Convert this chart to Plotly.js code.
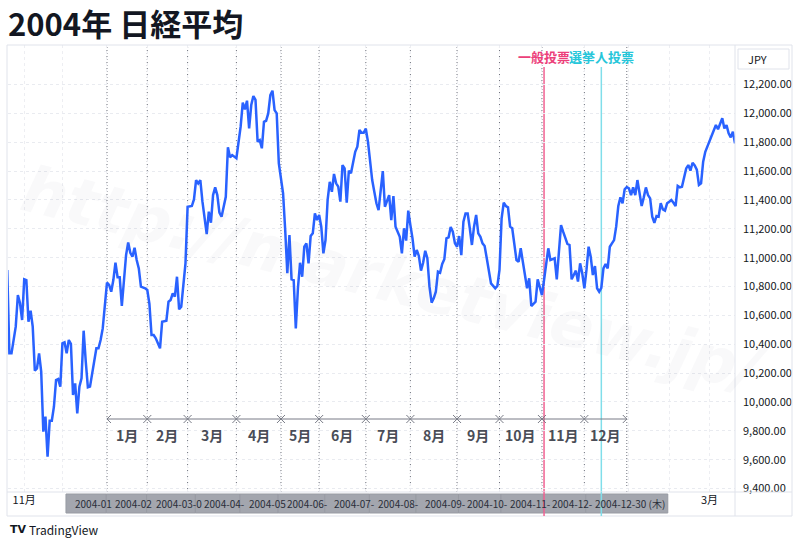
<!DOCTYPE html>
<html><head><meta charset="utf-8">
<script src="https://cdn.plot.ly/plotly-3.0.1.min.js"></script>
<style>html,body{margin:0;padding:0;background:#fff;} #chart{width:800px;height:544px;}</style>
</head><body><div id="chart"></div>
<script>
// ---- data: trading-day index (0 = 2004-01-05) and Nikkei 225 close (JPY) ----
const day2003 = [-47,-46,-45,-43,-42,-41,-40,-39,-38,-37,-36,-35,-34,-33,-32,-31,-30,-29,-28,-27,-26,-25,-24,-23,-22,-21,-20,-19,-18,-17,-16,-15,-14,-13,-12,-11,-10,-9,-8,-6,-5,-4,-3,-2,-1];
const close2003 = [10915,10337,10337,10522,10741,10686,10568,10850,10845,10556,10633,10522,10217,10233,10337,10210,9794,9898,9621,9870,9870,9967,10152,10159,10106,10406,10413,10337,10429,10402,10048,10129,9921,10106,10164,10494,10279,10101,10106,10291,10372,10372,10429,10510,10684];

const day2004 = [0,1,2,3,4,5,6,7,8,9, 10,11,12,13,14,15,16,18,19,20, 21,22,23,25,26,28,29,30,31,32, 33,34,35,37,38,40,41,42,43,44,
  45,47,48,49,50,51,52,53,54,56, 57,58,59,61,63,64,65,66,67,68, 69,70,71,72,73,74,75,76,77,78, 79,80,81,83,84,85,86,87,88,89,
  90,91,92,93,94,95,96,97,98,99, 100,101,102,103,104,105,106,107,108,109, 110,111,112,113,114,115,117,118,119,120,
  121,122,123,124,125,126,127,128,129,130, 131,132,133,134,135,136,137,138,139,140, 141,142,143,144,145,146,147,148,149,150,
  151,152,153,154,155,156,157,158,159,160, 161,162,163,164,165,166,167,168,169,170, 171,172,173,174,175,176,177,178,179,180,
  181,183,184,185,186,187,188,189,190,191, 192,193,194,195,196,197,198,199,200,201, 202,203,204,205,206,207,208,209,210,211,
  212,213,214,215,216,217,218,219,220,221, 222,223,224,225,226,227,228,229,230,231, 232,233,234,235,236,237,238,239,240,241,
  242,243,244,245];
const close2004 = [10827,10811,10764,10845,10965,10864,10864,10665,10868,11018, 11106,11034,11007,11069,10984,10926,10799,10788,10776,10680,
  10464,10464,10441,10372,10556,10563,10695,10707,10753,10730, 10868,10642,10660,10961,11353,11358,11404,11538,11515,11538,
  11388,11164,11319,11242,11434,11487,11434,11312,11284,11422, 11765,11696,11711,11689,11908,12074,12028,12088,11896,12058,
  12120,12093,11804,11815,11758,11942,11949,12000,12127,12157, 12023,12000,11654,11446,11192,10892,11157,10850,10845,10510,
  10788,10965,10868,11076,11099,10961,11150,11169,11307,11261, 11296,11215,11030,11122,11400,11526,11457,11580,11515,11492,
  11388,11642,11619,11381,11603,11585,11734,11769,11885,11866, 11866,11894,11804,11677,11538,11457,11377,11330,11481,11600,
  11353,11395,11434,11261,11427,11215,11173,11145,11030,11204, 11118,11326,11226,11134,11007,11053,11012,10910,10965,11048,
  10996,10799,10688,10718,10764,10903,10896,10956,10989,11134, 11141,11212,11180,11099,11076,11150,11018,11249,11307,11307,
  11204,11088,11215,11296,11169,11145,11099,11081,10996,10892, 10822,10788,10804,10915,11273,11381,11358,11349,11215,11204,
  11076,10984,10972,11065,10972,10864,10788,10857,10665,10679, 10695,10850,10799,10741,10845,10949,11065,10984,10989,10996,
  10850,11076,11226,11180,11134,11095,11088,10850,10880,10910, 10834,10961,10892,10788,10915,11076,11007,10880,10942,10788,
  10764,10790,10926,10956,10926,11076,11099,11122,11215,11358, 11418,11377,11474,11489];

const day2005 = [246,247,248,249,250,251,252,253,254,255,256,257,258,259,260,261,262,263,264,265,266,267,268,269,270,271,272,273,274,275,
  276,277,278,279,280,281,282,283,284,285,286,287,288,289,290,291,292,293,294,295,296];
const close2005 = [11481,11434,11487,11434,11538,11457,11358,11418,11487,11434, 11411,11284,11242,11289,11284,11377,11335,11326,11377,11388,
  11400,11381,11358,11497,11487,11492,11557,11619,11642,11603, 11658,11640,11610,11504,11515,11665,11734,11769,11804,11850,
  11873,11919,11890,11926,11966,11896,11919,11862,11834,11873, 11792];

// month ranges of 2004 (first trading day of each month, last = 2004-12-30)
const monthStart = [0,19,38,61,82,100,122,143,165,185,205,225,245];
const monthLabels = ['1月','2月','3月','4月','5月','6月','7月','8月','9月','10月','11月','12月'];
// time-axis date labels as visible (each one partly covered by the next)
const boundaryDates = ['2004-01','2004-02','2004-03-0','2004-04-','2004-05','2004-06-',
  '2004-07-','2004-08-','2004-09-','2004-10-','2004-11-','2004-12-','2004-12-30 (木)'];

// US election events
const eventDay = [206, 233];
const eventLabel = ['一般投票', '選挙人投票'];
const eventTextColor = ['#ec407a', '#26c6da'];
const eventLineColor = ['#f06292', '#80deea'];

// time axis ticks (month starts) and price ticks
const axisTickDays = [-39,-21,0,19,38,61,82,100,122,143,165,185,205,225,246,265,284];
const axisTickText = ['11月','','','','','','','','','','','','','','','','3月'];
const priceTicks = [9400,9600,9800,10000,10200,10400,10600,10800,11000,11200,11400,11600,11800,12000,12200];

// ---- build ----
const FONT = '"Noto Sans CJK JP", "Noto Sans", sans-serif';
const xs = day2003.concat(day2004, day2005);
const ys = close2003.concat(close2004, close2005);

const W = 800, H = 544, L = 8, R = 65, T = 45, B = 52;
const pw = W - L - R, ph = H - T - B;
const XR = [-46.65, 296];
const pxPerDay = pw / (XR[1] - XR[0]);
const px = v => (v - L) / pw;          // pixel -> paper x
const py = v => (H - B - v) / ph;      // pixel -> paper y

const shapes = [];
const annotations = [];

// frame and axis separators
shapes.push({type:'rect', xref:'paper', yref:'paper', x0:px(7), x1:px(792), y0:py(516), y1:py(45), line:{color:'#e0e3eb', width:1}, layer:'above'});
shapes.push({type:'line', xref:'paper', yref:'paper', x0:1, x1:1, y0:py(516), y1:py(45), line:{color:'#e0e3eb', width:1}});
shapes.push({type:'line', xref:'paper', yref:'paper', x0:px(7), x1:px(792), y0:0, y1:0, line:{color:'#e0e3eb', width:1}});

// JPY box
shapes.push({type:'rect', xref:'paper', yref:'paper', x0:px(738), x1:px(789), y0:py(69), y1:py(49), line:{color:'#e0e3eb', width:1}, fillcolor:'#ffffff'});
annotations.push({xref:'paper', yref:'paper', x:px(746), y:py(59), xanchor:'left', yanchor:'middle', showarrow:false, text:'JPY', font:{family:FONT, size:11, color:'#131722'}});

// dotted month boundaries
monthStart.forEach(d => {
  shapes.push({type:'line', xref:'x', yref:'paper', x0:d, x1:d, y0:0, y1:1, layer:'below', line:{color:'#6f727c', width:1, dash:'1px,2px'}});
});

// range arrows + month labels
const ay = py(419), ady = 4 / ph, adx = 4 / pxPerDay;
for (let i = 0; i < monthLabels.length; i++) {
  const a = monthStart[i], b = monthStart[i + 1];
  const path = `M ${a},${ay} L ${b},${ay} M ${a + adx},${ay + ady} L ${a},${ay} L ${a + adx},${ay - ady} M ${b - adx},${ay + ady} L ${b},${ay} L ${b - adx},${ay - ady}`;
  shapes.push({type:'path', xref:'x', yref:'paper', path:path, line:{color:'#787b86', width:1}});
  annotations.push({xref:'x', yref:'paper', x:(a + b) / 2, y:py(435), showarrow:false, xanchor:'center', yanchor:'middle',
    text:'<b>' + monthLabels[i] + '</b>', font:{family:FONT, size:14, color:'#4a4d57'}});
}

// event lines in plot + labels
eventDay.forEach((d, i) => {
  shapes.push({type:'line', xref:'x', yref:'paper', x0:d, x1:d, y0:0, y1:py(67), layer:'below', line:{color:eventLineColor[i], width:1.5}});
  annotations.push({xref:'x', yref:'paper', x:d, y:py(57), showarrow:false, xanchor:'center', yanchor:'middle',
    text:'<b>' + eventLabel[i] + '</b>', font:{family:FONT, size:13, color:eventTextColor[i]}});
});

// highlighted date boxes on the time axis (each box from its label to the next one)
const half = 41 / pxPerDay;
monthStart.forEach((d, i) => {
  const x0 = d - half;
  const x1 = i < monthStart.length - 1 ? monthStart[i + 1] - half : d + half;
  shapes.push({type:'rect', xref:'x', yref:'paper', x0:x0, x1:x1, y0:py(513), y1:py(494), layer:'above',
    fillcolor:'#a3a6ae', line:{color:'#989ba3', width:1}});
  annotations.push({xref:'x', yref:'paper', x:d, xshift:-34, y:py(503.5), showarrow:false, xanchor:'left', yanchor:'middle',
    text:boundaryDates[i], font:{family:FONT, size:10, color:'#2a2e39'}});
});
// event lines crossing the time axis
eventDay.forEach((d, i) => {
  shapes.push({type:'line', xref:'x', yref:'paper', x0:d, x1:d, y0:py(516), y1:0, layer:'above', line:{color:eventLineColor[i], width:1.5}});
});

// watermark
annotations.push({xref:'paper', yref:'paper', x:0.53, y:py(280), showarrow:false, textangle:14,
  text:'<b><i>http://marketview.jp/</i></b>', font:{family:'DejaVu Sans, sans-serif', size:64, color:'rgba(120,123,134,0.045)'}});

// TradingView logo
annotations.push({xref:'paper', yref:'paper', x:px(8), y:py(529), xanchor:'left', yanchor:'middle', showarrow:false,
  text:'<b>TV</b>', font:{family:'DejaVu Sans, sans-serif', size:11, color:'#131722'}});
annotations.push({xref:'paper', yref:'paper', x:px(27), y:py(529), xanchor:'left', yanchor:'middle', showarrow:false,
  text:'TradingView', font:{family:FONT, size:12, color:'#131722'}});

const trace = {
  x: xs, y: ys, type:'scatter', mode:'lines',
  line:{color:'#2962ff', width:2.5}, hoverinfo:'skip'
};

const layout = {
  width: W, height: H,
  margin:{l:L, r:R, t:T, b:B, pad:0},
  paper_bgcolor:'#ffffff', plot_bgcolor:'rgba(0,0,0,0)',
  showlegend:false,
  title:{text:'<b>2004年 日経平均</b>', font:{family:FONT, size:31, color:'#131722'},
    x:0.01, xref:'container', xanchor:'left', y:1 - 25 / H, yref:'container', yanchor:'middle'},
  xaxis:{range:XR, showline:false, zeroline:false, ticks:'', automargin:false,
    tickmode:'array', tickvals:axisTickDays, ticktext:axisTickText,
    tickfont:{family:FONT, size:11, color:'#131722'},
    showgrid:true, gridcolor:'#edeef2', griddash:'dot', gridwidth:1},
  yaxis:{range:[9376, 12474], side:'right', showline:false, zeroline:false, ticks:'', automargin:false,
    tickmode:'array', tickvals:priceTicks, tickformat:',.2f', ticklabelstandoff:7,
    tickfont:{family:FONT, size:11, color:'#131722'},
    showgrid:true, gridcolor:'#e9ebf0', griddash:'dot', gridwidth:1},
  shapes: shapes,
  annotations: annotations
};

Plotly.newPlot('chart', [trace], layout, {displayModeBar:false, staticPlot:true});
</script>
</body></html>
